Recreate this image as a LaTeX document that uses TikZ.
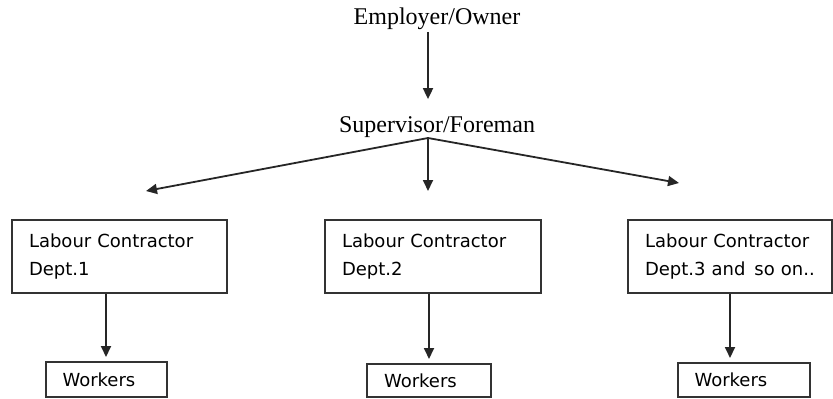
\documentclass[tikz,border=0pt]{standalone}
\usepackage{fontspec}
\setmainfont{Liberation Serif}
\newfontfamily\boxfont{DejaVu Sans}
\usetikzlibrary{arrows.meta}

\begin{document}
\begin{tikzpicture}[x=0.5pt, y=-0.5pt,
    head/.style={font=\fontsize{12}{14}\selectfont, inner sep=0.75pt},
    ctbox/.style={draw=black!80, line width=1pt, font=\boxfont\fontsize{9}{14}\selectfont,
        align=left, inner xsep=8.5pt, minimum height=36.5pt},
    wkbox/.style={draw=black!80, line width=1pt, font=\boxfont\fontsize{9}{11}\selectfont,
        align=left, inner xsep=8.5pt, inner ysep=0pt},
    link/.style={draw=black!85, line width=0.9pt, -{Triangle[length=5.5pt, width=5pt]}}]
\useasboundingbox (0,0) rectangle (833,398);
%Top of the chain
\node [head] (owner) at (437, 19) {Employer/Owner};
\node [head] (super) at (437, 127.5) {Supervisor/Foreman};
\coordinate (fork) at (428, 138);
\draw [link, shorten >=8pt] (owner.south -| fork) -- (fork |- super.north);
%Contractors
\node [ctbox, text width=90.5pt] (ct1) at (119.5, 256.5) {Labour Contractor\\Dept.1};
\node [ctbox, text width=91pt] (ct2) at (433, 256.5) {Labour Contractor\\Dept.2};
\node [ctbox, text width=85pt] (ct3) at (730, 256.5) {Labour Contractor\\Dept.3~and\,~so~on..};
\coordinate (toL) at (146, 191);
\coordinate (toM) at (428, 191);
\coordinate (toR) at (679, 183);
\draw [link] (fork) -- (toL);
\draw [link] (fork) -- (toM);
\draw [link] (fork) -- (toR);
%Workers
\node [wkbox, text width=43.5pt, minimum height=17.5pt] (wk1) at (106, 379.5) {Workers};
\node [wkbox, text width=45pt, minimum height=16.5pt] (wk2) at (429, 380.5) {Workers};
\node [wkbox, text width=49pt, minimum height=17pt] (wk3) at (743.5, 380) {Workers};
\draw [link, shorten >=2pt] (ct1.south -| wk1.north) -- (wk1.north);
\draw [link, shorten >=2pt] (ct2.south -| wk2.north) -- (wk2.north);
\draw [link, shorten >=2pt] (ct3.south) -- (ct3.south |- wk3.north);
\end{tikzpicture}
\end{document}
